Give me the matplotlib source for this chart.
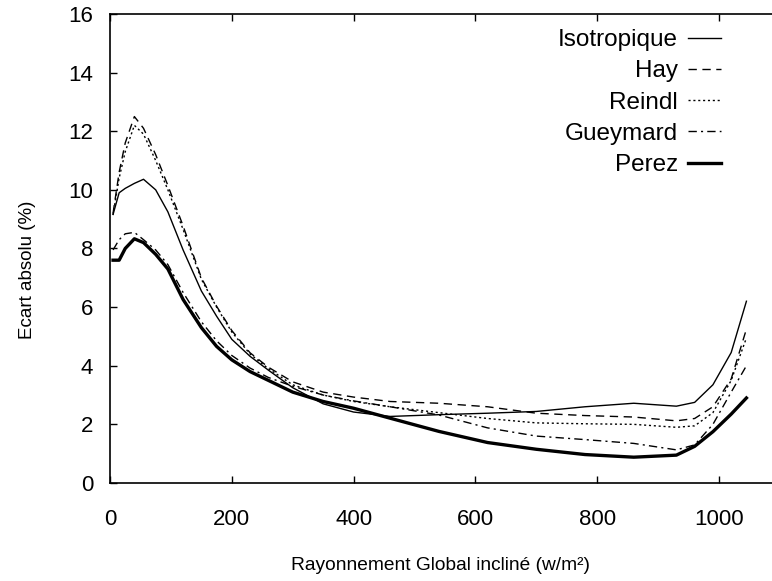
import numpy as np
import matplotlib
matplotlib.use("Agg")
import matplotlib.pyplot as plt

plt.rcParams['font.family'] = ['Liberation Sans', 'DejaVu Sans']

# Rayonnement global incline (w/m2)
x = [5, 15, 25, 40, 55, 75, 95, 120, 150, 175, 200, 230, 260, 300, 350, 400,
     460, 540, 620, 700, 780, 860, 930, 960, 990, 1020, 1045]

isotropique = [9.16, 9.9, 10.05, 10.22, 10.36, 10.0, 9.25, 7.95, 6.55, 5.69, 4.9, 4.32, 3.85, 3.25, 2.7, 2.42,
               2.27, 2.33, 2.38, 2.44, 2.6, 2.72, 2.62, 2.75, 3.35, 4.45, 6.2]
hay = [9.2, 10.6, 11.6, 12.5, 12.1, 11.2, 10.15, 8.77, 7.0, 6.03, 5.2, 4.44, 3.95, 3.45, 3.1, 2.93,
       2.78, 2.72, 2.6, 2.38, 2.3, 2.25, 2.12, 2.2, 2.6, 3.55, 5.25]
reindl = [9.15, 10.4, 11.3, 12.2, 11.9, 11.0, 10.0, 8.65, 6.95, 6.0, 5.15, 4.4, 3.9, 3.35, 3.0, 2.78,
          2.6, 2.4, 2.2, 2.05, 2.02, 2.0, 1.9, 1.95, 2.4, 3.5, 4.95]
gueymard = [7.95, 8.3, 8.5, 8.55, 8.3, 7.95, 7.45, 6.5, 5.5, 4.85, 4.35, 3.92, 3.6, 3.3, 3.0, 2.8,
            2.6, 2.32, 1.88, 1.6, 1.48, 1.35, 1.13, 1.3, 2.0, 3.1, 4.0]
perez = [7.6, 7.6, 8.0, 8.33, 8.2, 7.8, 7.3, 6.26, 5.3, 4.66, 4.2, 3.8, 3.5, 3.1, 2.78, 2.55,
         2.21, 1.76, 1.38, 1.15, 0.97, 0.88, 0.95, 1.25, 1.75, 2.35, 2.9]

fig = plt.figure(figsize=(7.72, 5.81), dpi=100)
ax = fig.add_axes([0.1425, 0.1687, 0.8575, 0.8073])

ax.plot(x, isotropique, color='black', lw=1.0, ls='-', label='Isotropique')
ax.plot(x, hay, color='black', lw=1.0, ls=(0, (6, 4)), label='Hay')
ax.plot(x, reindl, color='black', lw=1.0, ls=(0, (1.5, 2)), label='Reindl')
ax.plot(x, gueymard, color='black', lw=1.0, ls=(0, (6, 3, 1.5, 3)), label='Gueymard')
ax.plot(x, perez, color='black', lw=2.4, ls='-', label='Perez')

ax.set_xlim(0, 1087)
ax.set_ylim(0, 16)
ax.set_xticks([0, 200, 400, 600, 800, 1000])
ax.set_yticks(range(0, 17, 2))
ax.tick_params(direction='in', length=5, width=1, labelsize=16, top=True)
ax.tick_params(axis='x', pad=19)
ax.tick_params(axis='y', pad=12)
for s in ax.spines.values():
    s.set_linewidth(1.2)
ax.spines['right'].set_visible(False)

fig.text(0.57, 0.027, 'Rayonnement Global incliné (w/m²)', ha='center', va='center', fontsize=13.8)
fig.text(0.035, 0.535, 'Ecart absolu (%)', ha='center', va='center', rotation=90, fontsize=13.5)

ax.legend(loc='upper right', bbox_to_anchor=(721 / 772, 1 - 29 / 581),
          bbox_transform=fig.transFigure, markerfirst=False, frameon=False,
          fontsize=17.5, handlelength=1.36, handletextpad=0.41, labelspacing=0.38,
          borderpad=0, borderaxespad=0)

fig.savefig('out.png', dpi=100)
